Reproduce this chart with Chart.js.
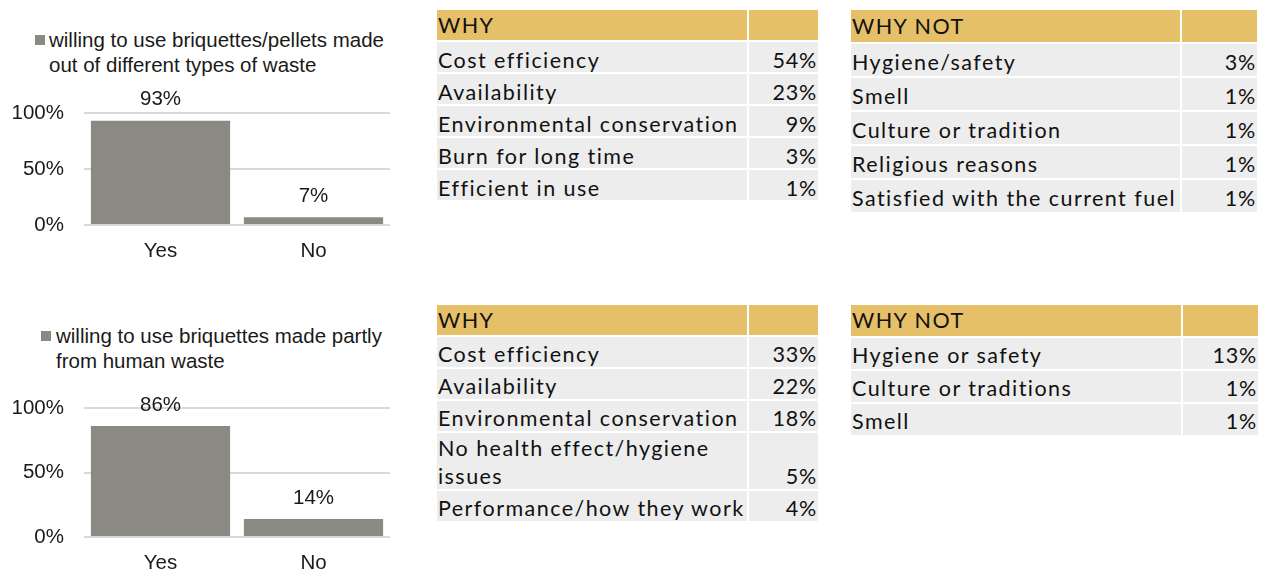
<!DOCTYPE html>
<html lang="en">
<head>
<meta charset="UTF-8">
<title>Willingness to use briquettes</title>
<script src="https://cdn.jsdelivr.net/npm/chart.js"></script>
<style>
    body {
        margin: 0;
        width: 1261px;
        height: 569px;
        overflow: hidden;
        background: #fff;
        position: relative;
        font-family: 'Liberation Sans', Arial, sans-serif;
        color: #1a1a1a;
    }
    .chartBox {
        position: absolute;
        left: 0;
        width: 400px;
    }
    .legend {
        position: absolute;
        font-size: 20.5px;
        line-height: 25px;
        color: #1a1a1a;
        white-space: nowrap;
    }
    .legend .sw {
        position: absolute;
        width: 10px;
        height: 10px;
        background: #8a8a83;
        top: 8px;
    }
    .tbl {
        position: absolute;
        font-family: Lato, 'Open Sans', sans-serif;
        font-size: 21.5px;
        letter-spacing: 1.45px;
        color: #111;
    }
    .tbl .row {
        display: flex;
        margin-bottom: 2px;
    }
    .tbl .lab, .tbl .val {
        background: #ededed;
        box-sizing: border-box;
        display: flex;
        align-items: flex-end;
    }
    .tbl .lab { padding-left: 1px; }
    .tbl .val { justify-content: flex-end; padding-right: 1px; margin-left: 2px; letter-spacing: 0.8px; }
    .tbl span { display: block; line-height: 28px; transform: translateY(var(--dy)); }
    .tbl .head span { transform: translateY(var(--hy)); }
    .tbl .head .lab, .tbl .head .val { background: #e6bf69; }
</style>
</head>
<body>
<div class="legend" id="legend1" style="left:35px;top:27px;"><span class="sw" style="left:0"></span><div style="padding-left:14px">willing to use briquettes/pellets made<br>out of different types of waste</div></div>
<div class="chartBox" style="top:80px;height:202px;"><canvas id="chart1"></canvas></div>

<div class="legend" id="legend2" style="left:41px;top:323px;"><span class="sw" style="left:0"></span><div style="padding-left:15px">willing to use briquettes made partly<br>from human waste</div></div>
<div class="chartBox" style="top:375px;height:219px;"><canvas id="chart2"></canvas></div>

<div class="tbl" id="t1" style="left:437px;top:10px;--dy:1.5px;--hy:-1.5px;"></div>
<div class="tbl" id="t2" style="left:851px;top:10px;--dy:0px;--hy:-2.5px;"></div>
<div class="tbl" id="t3" style="left:437px;top:305px;--dy:1px;--hy:-1.5px;"></div>
<div class="tbl" id="t4" style="left:851px;top:305px;--dy:-0.5px;--hy:-2px;"></div>

<script>
// bar charts
const categories = ['Yes', 'No'];
const willingAll = [93, 7];
const willingHuman = [86, 14];
const yTicks = [0, 50, 100];

// tables
const why1Labels = ['Cost efficiency', 'Availability', 'Environmental conservation', 'Burn for long time', 'Efficient in use'];
const why1Values = ['54%', '23%', '9%', '3%', '1%'];
const whyNot1Labels = ['Hygiene/safety', 'Smell', 'Culture or tradition', 'Religious reasons', 'Satisfied with the current fuel'];
const whyNot1Values = ['3%', '1%', '1%', '1%', '1%'];
const why2Labels = ['Cost efficiency', 'Availability', 'Environmental conservation', 'No health effect/hygiene issues', 'Performance/how they work'];
const why2Values = ['33%', '22%', '18%', '5%', '4%'];
const whyNot2Labels = ['Hygiene or safety', 'Culture or traditions', 'Smell'];
const whyNot2Values = ['13%', '1%', '1%'];

function buildTable(id, title, labels, values, w1, w2, headH, rowHs) {
    const el = document.getElementById(id);
    let html = '<div class="row head"><div class="lab" style="width:' + w1 + 'px;height:' + headH + 'px"><span>' + title +
        '</span></div><div class="val" style="width:' + w2 + 'px;height:' + headH + 'px"></div></div>';
    labels.forEach((l, i) => {
        const h = rowHs[i];
        html += '<div class="row"><div class="lab" style="width:' + w1 + 'px;height:' + h + 'px"><span>' + l +
            '</span></div><div class="val" style="width:' + w2 + 'px;height:' + h + 'px"><span>' + values[i] + '</span></div></div>';
    });
    el.innerHTML = html;
}

buildTable('t1', 'WHY', why1Labels, why1Values, 310, 69, 30, [30, 30, 30, 30, 30]);
buildTable('t2', 'WHY NOT', whyNot1Labels, whyNot1Values, 329, 75, 32, [32, 32, 32, 32, 32]);
buildTable('t3', 'WHY', why2Labels, why2Values, 310, 69, 30, [30, 30, 30, 56, 30]);
buildTable('t4', 'WHY NOT', whyNot2Labels, whyNot2Values, 330, 75, 31, [31, 31, 31]);

const FONT = "'Liberation Sans', Arial, sans-serif";
const FSIZE = 20.5;

const valueLabels = {
    id: 'valueLabels',
    afterDatasetsDraw(chart) {
        const ctx = chart.ctx;
        const meta = chart.getDatasetMeta(0);
        ctx.save();
        ctx.font = FSIZE + 'px ' + FONT;
        ctx.fillStyle = '#1a1a1a';
        ctx.textAlign = 'center';
        ctx.textBaseline = 'middle';
        meta.data.forEach((bar, i) => {
            ctx.fillText(chart.data.datasets[0].data[i] + '%', bar.x, bar.y - 21);
        });
        ctx.restore();
    }
};

function makeChart(id, data, label) {
    return new Chart(document.getElementById(id), {
        type: 'bar',
        data: {
            labels: categories,
            datasets: [{
                label: label,
                data: data,
                backgroundColor: '#8a8a83',
                barPercentage: 0.91,
                categoryPercentage: 1
            }]
        },
        options: {
            responsive: true,
            maintainAspectRatio: false,
            animation: false,
            layout: { padding: { top: 33, right: 10, left: 0, bottom: 0 } },
            plugins: {
                legend: { display: false },
                tooltip: { enabled: false }
            },
            scales: {
                x: {
                    grid: { display: false, drawTicks: false },
                    border: { display: false },
                    ticks: { color: '#1a1a1a', font: { family: FONT, size: FSIZE }, padding: 14 },
                    afterFit: s => { s.height = 57; s.paddingLeft = 0; s.paddingRight = 0; }
                },
                y: {
                    min: 0,
                    max: 100,
                    afterBuildTicks: s => { s.ticks = yTicks.map(v => ({ value: v })); },
                    grid: { color: '#d9d9d9', lineWidth: 2, drawTicks: false },
                    border: { display: false },
                    ticks: {
                        color: '#1a1a1a',
                        font: { family: FONT, size: FSIZE },
                        padding: 20,
                        callback: v => v + '%'
                    },
                    afterFit: s => { s.width = 84; s.paddingTop = 0; s.paddingBottom = 0; }
                }
            }
        },
        plugins: [valueLabels]
    });
}

makeChart('chart1', willingAll, 'willing to use briquettes/pellets made out of different types of waste');
makeChart('chart2', willingHuman, 'willing to use briquettes made partly from human waste');
</script>
</body>
</html>
